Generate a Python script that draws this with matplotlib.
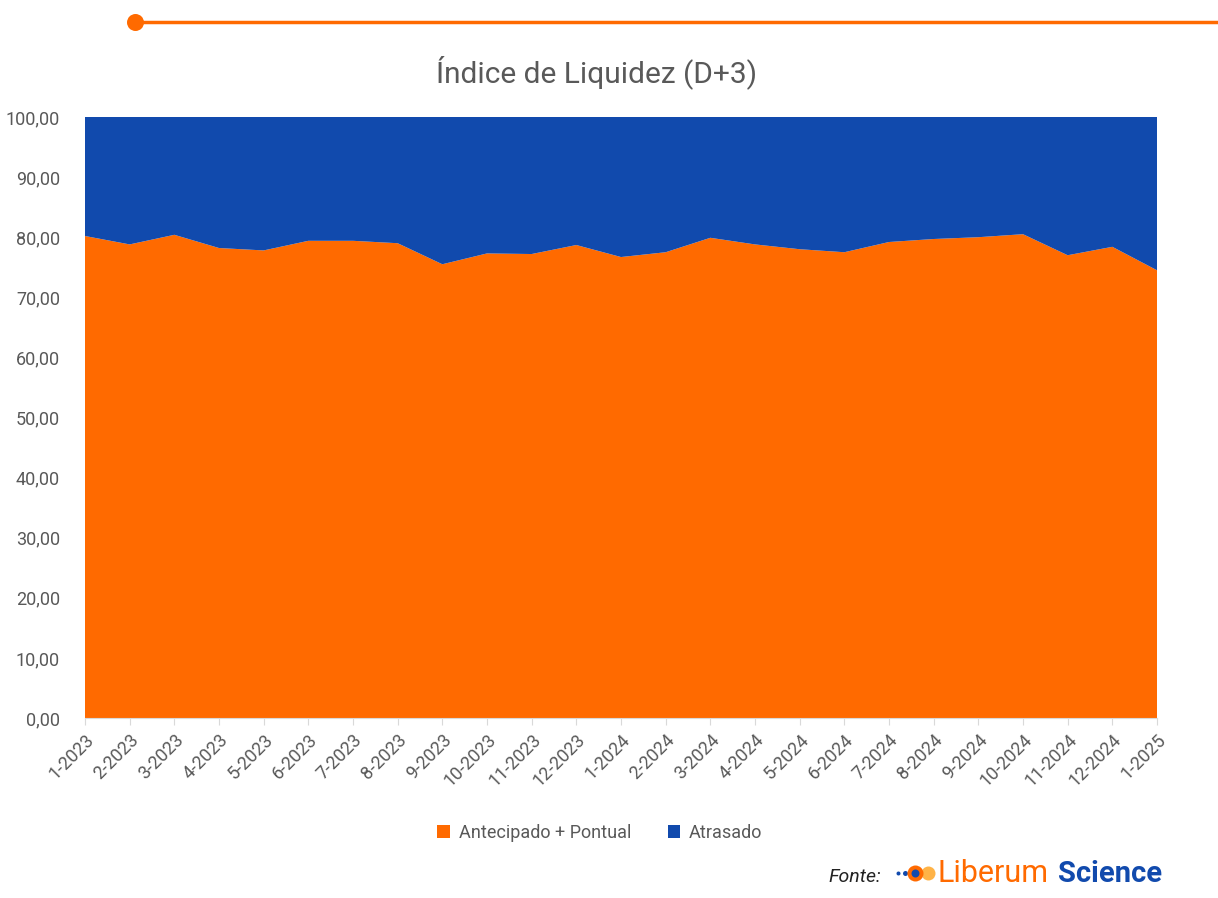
import matplotlib
matplotlib.use("Agg")
import matplotlib.pyplot as plt
from matplotlib.lines import Line2D
from matplotlib.ticker import FuncFormatter

months = ["1-2023", "2-2023", "3-2023", "4-2023", "5-2023", "6-2023", "7-2023",
          "8-2023", "9-2023", "10-2023", "11-2023", "12-2023", "1-2024", "2-2024",
          "3-2024", "4-2024", "5-2024", "6-2024", "7-2024", "8-2024", "9-2024",
          "10-2024", "11-2024", "12-2024", "1-2025"]
antecipado_pontual = [80.2, 78.8, 80.4, 78.2, 77.8, 79.4, 79.4, 79.0, 75.5, 77.3,
                      77.2, 78.7, 76.7, 77.5, 79.9, 78.8, 78.0, 77.5, 79.2, 79.7,
                      80.0, 80.5, 77.0, 78.4, 74.5]
atrasado = [19.8, 21.2, 19.6, 21.8, 22.2, 20.6, 20.6, 21.0, 24.5, 22.7,
            22.8, 21.3, 23.3, 22.5, 20.1, 21.2, 22.0, 22.5, 20.8, 20.3,
            20.0, 19.5, 23.0, 21.6, 25.5]
series_names = ["Antecipado + Pontual", "Atrasado"]
yticks = [0, 10, 20, 30, 40, 50, 60, 70, 80, 90, 100]

ORANGE = "#FF6A00"
BLUE = "#114AAD"
GRAY = "#595959"

plt.rcParams['font.family'] = ['Roboto', 'DejaVu Sans']

fig = plt.figure(figsize=(12.18, 8.98), dpi=100)
ax = fig.add_axes([85/1218, 1-718/898, (1157-85)/1218, (718-117)/898])

x = list(range(len(months)))
ax.stackplot(x, antecipado_pontual, atrasado, colors=[ORANGE, BLUE],
             labels=series_names, linewidth=0)
ax.set_xlim(0, len(months)-1)
ax.set_ylim(0, 100)
ax.set_yticks(yticks)
ax.yaxis.set_major_formatter(FuncFormatter(lambda v, p: f"{v:.2f}".replace(".", ",")))
ax.set_xticks(x)
ax.set_xticklabels(months, rotation=45, ha="right", rotation_mode="anchor")
for s in ["top", "right", "left"]:
    ax.spines[s].set_visible(False)
ax.spines["bottom"].set_color("#d9d9d9")
ax.tick_params(axis="y", length=0, labelsize=13, labelcolor=GRAY, pad=18)
ax.tick_params(axis="x", length=5, color="#d9d9d9", labelsize=13, labelcolor=GRAY, pad=4)

fig.text(597/1218, 1-72/898, "Índice de Liquidez (D+3)", ha="center", va="center",
         fontsize=21.5, color=GRAY)

def fig_dot(px, py, diam_px, color):
    fig.add_artist(Line2D([px/1218], [1-py/898], marker="o", markersize=diam_px*0.72,
                          color=color, markeredgewidth=0, linestyle="none",
                          transform=fig.transFigure))

# top decoration
fig.add_artist(Line2D([135/1218, 1.0], [1-22/898, 1-22/898], color=ORANGE, lw=2.5,
                      transform=fig.transFigure))
fig_dot(135, 22, 17, ORANGE)

leg = fig.legend(loc="center", bbox_to_anchor=(600/1218, 1-833/898), ncol=2,
                 frameon=False, fontsize=13, handlelength=0.7, handleheight=0.7,
                 handletextpad=0.5, columnspacing=2.0, labelcolor=GRAY)

# source / logo
fig.text(855/1218, 1-877/898, "Fonte:", ha="center", va="center", fontsize=14,
         style="italic", color="#222222")
fig_dot(898, 873, 4, BLUE)
fig_dot(905, 873, 5, BLUE)
fig_dot(928, 873, 14, "#FFB347")
fig_dot(915, 873, 16, ORANGE)
fig_dot(915, 873, 8, BLUE)
fig.text(938/1218, 1-874/898, "Liberum", ha="left", va="center", fontsize=22,
         color=ORANGE)
fig.text(1058/1218, 1-874/898, "Science", ha="left", va="center", fontsize=21,
         color=BLUE, fontweight="bold")

fig.savefig("out.png", dpi=100)
